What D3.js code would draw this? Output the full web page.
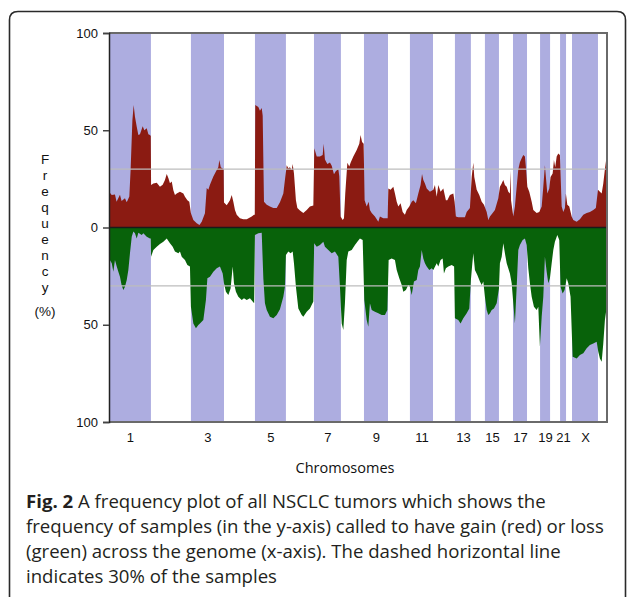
<!DOCTYPE html>
<html><head><meta charset="utf-8">
<script src="https://cdn.jsdelivr.net/npm/d3@7"></script>
<style>body{margin:0;background:#fff}svg{display:block}</style>
</head><body>
<svg id="c" width="627" height="597"></svg>
<script>
// ---- data ----
const chromosomes = ["1","2","3","4","5","6","7","8","9","10","11","12","13","14","15","16","17","18","19","20","21","22","X","Y"];
// approximate displayed chromosome lengths (Mb)
const chromLengths = [260,248,205,192,192,174,167,143,149,136,143,136,99,87,87,87,87,81,62,62,37,37,161,56];
const shadedChromosomes = ["1","3","5","7","9","11","13","15","17","19","21","X"];
const tickLabels = ["1","3","5","7","9","11","13","15","17","19","21","X"];
const yTickValues = [100,50,0,-50,-100];
const thresholdPct = 30;
// gain frequency (%) along genome position (Mb)
const gain = [[0,18.4],[17,16.7],[37,17],[47,13.3],[68,16.9],[78,13.6],[99,15],[110,13],[126,16],[134,29.6],[145,55],[153,63],[161,57],[172,51.8],[182,47.6],[192,48],[209,52],[219,50],[234,51],[244,48],[254,47.5],[259,47],[261,21.8],[275,22.6],[296,23],[316,21],[333,22],[347,24.4],[358,27.5],[368,25.4],[378,22.7],[389,23.6],[399,19.2],[409,16.7],[420,17.5],[440,18.4],[461,17.5],[471,15.8],[486,14],[498,13.3],[508,7.3],[523,3.9],[544,2.2],[561,1.3],[575,3],[595,7.3],[606,20.3],[616,19.4],[626,22],[647,26.2],[668,29.6],[678,31],[684,34.7],[693,31],[711,30],[713,12.8],[730,11.5],[750,14],[761,16.7],[771,13.3],[781,9],[792,6.5],[812,4.8],[833,4.2],[854,4.2],[885,5.6],[899,6.5],[904,6.5],[907,63],[926,62],[936,60],[947,61.5],[953,57.5],[961,13.3],[978,11.7],[998,10.8],[1019,10],[1040,10],[1060,13],[1081,17.5],[1093,26],[1102,32],[1112,30.4],[1122,31],[1133,29.6],[1139,32.7],[1147,27.8],[1159,14],[1168,10],[1184,8.8],[1205,7.5],[1226,9],[1246,10.8],[1267,11.3],[1273,40.7],[1288,36.5],[1308,36.5],[1325,37.3],[1331,43],[1339,35],[1354,32.6],[1370,33.4],[1381,31.7],[1395,27.4],[1407,29],[1422,29.9],[1428,26.4],[1436,5.6],[1449,3.9],[1457,4.8],[1465,17.5],[1478,33.3],[1490,31.3],[1498,33.3],[1515,36.5],[1536,39.8],[1552,43],[1560,47.6],[1569,44],[1579,43],[1585,14],[1598,10.8],[1610,13.3],[1618,9],[1629,7.5],[1649,5.6],[1670,3],[1680,5.6],[1701,4.8],[1728,4.8],[1732,20],[1746,19.4],[1763,21],[1773,17.5],[1784,13.3],[1794,10.8],[1808,12.5],[1821,8],[1835,6.5],[1846,9],[1862,10.8],[1877,13.3],[1887,14],[1903,12.5],[1918,17.5],[1932,21.8],[1941,27.5],[1949,24.4],[1959,22.6],[1970,20],[1990,18.4],[2011,19.4],[2021,21.8],[2032,15.8],[2042,21.8],[2056,18.4],[2073,20],[2089,14],[2098,14],[2114,16.7],[2135,17.5],[2143,13.3],[2151,5.6],[2166,5.3],[2187,5.3],[2207,5.3],[2218,8],[2238,10],[2249,26],[2259,33.3],[2265,26],[2280,19.4],[2296,16.7],[2311,13.3],[2325,11.7],[2342,8],[2352,3.9],[2362,5.6],[2379,7.5],[2393,9],[2414,15],[2424,21],[2435,22.6],[2445,24.4],[2455,21.8],[2466,21],[2476,18.4],[2486,17.5],[2490,29.3],[2493,14],[2507,5.6],[2517,10.8],[2528,21],[2538,29.9],[2548,33.5],[2559,35.6],[2569,37.3],[2579,36.5],[2585,31],[2594,21],[2606,18.4],[2621,13.3],[2631,9],[2652,7.5],[2668,8],[2683,10.8],[2693,21],[2703,32],[2709,26],[2718,17.5],[2730,20],[2738,26],[2751,27.8],[2759,34.7],[2767,31],[2776,36.5],[2786,38.1],[2796,37.3],[2807,10.8],[2817,8],[2827,10],[2833,17.5],[2842,11.7],[2854,10.8],[2869,5.6],[2879,3.9],[2900,3],[2920,4.2],[2941,6.5],[2962,7.5],[2982,8],[3003,9],[3019,10],[3032,19.4],[3044,18.4],[3055,17.5],[3065,22.6],[3075,29.9],[3088,38]];
// loss frequency (%) along genome position (Mb)
const loss = [[0,15.9],[17,18.4],[27,22.7],[37,16.7],[48,20.1],[58,22.7],[68,25.3],[78,29.6],[89,32.1],[99,30.4],[110,27],[120,21.9],[130,13.3],[141,4.7],[151,2.1],[161,3],[172,5.6],[182,2.7],[203,3.9],[213,3],[234,4.7],[254,5.6],[259,5.6],[261,15],[275,11.6],[296,9.9],[316,8.5],[337,7.3],[358,5.6],[378,8.1],[395,9.9],[409,12.4],[430,13.3],[440,12.4],[451,15],[471,16.7],[486,19.3],[502,20.1],[508,40.7],[523,49.3],[539,51.8],[554,50.1],[564,49.3],[585,47.6],[601,37.3],[610,26.1],[626,25.3],[647,22.7],[668,21],[688,20.1],[705,23.6],[713,28.7],[725,33],[740,34.7],[754,31.3],[767,20.1],[775,28.7],[787,33],[802,35.6],[823,37.3],[837,36.4],[854,37.3],[874,36.4],[900,39],[905,3.9],[926,3],[947,2.7],[957,26.1],[967,39],[978,42.4],[998,45.9],[1019,46.7],[1040,45],[1060,42],[1081,35.6],[1091,30.4],[1097,14.1],[1112,12.4],[1126,13.3],[1139,12.4],[1147,18.4],[1159,30.4],[1174,41.6],[1195,45],[1205,45.9],[1226,43.3],[1246,41.6],[1267,38.1],[1272,8.1],[1288,9.9],[1308,9],[1329,7.3],[1339,9.9],[1360,11.6],[1381,13.3],[1401,12.4],[1422,15],[1432,30.4],[1443,49.3],[1453,52.7],[1463,39],[1474,16.7],[1484,12.4],[1505,11.6],[1525,9],[1540,7.3],[1556,5.6],[1573,6.4],[1583,37.3],[1598,47.6],[1608,51],[1618,39],[1629,42.4],[1649,43.3],[1670,44.1],[1691,45],[1711,45],[1726,42.4],[1734,16.7],[1753,15.9],[1773,16.7],[1784,21.9],[1800,26.1],[1815,29.6],[1825,33],[1841,32.1],[1856,29.6],[1866,30.4],[1877,34.7],[1891,27.8],[1908,27],[1918,21.9],[1928,20.1],[1939,11.6],[1949,15.9],[1959,18.4],[1970,20.1],[1986,21.9],[2001,21],[2011,21.9],[2032,18.4],[2042,20.1],[2056,16.7],[2069,15.9],[2077,23.6],[2089,21],[2104,20.1],[2125,19.3],[2140,20.1],[2145,46.7],[2166,47.6],[2180,49.3],[2197,46.7],[2218,44.1],[2234,41.6],[2244,27],[2253,18.4],[2259,13.3],[2269,21.9],[2284,24.4],[2300,27.8],[2311,29.6],[2321,27.8],[2331,35.6],[2342,42.4],[2352,45],[2362,44.1],[2373,42.4],[2387,41.6],[2404,39],[2418,31.3],[2424,18.4],[2435,15],[2445,8.1],[2455,13.3],[2466,18.4],[2486,23.6],[2497,28.7],[2507,39],[2517,49.3],[2528,30.4],[2538,11.6],[2548,9],[2565,6.4],[2579,5.6],[2590,9],[2600,21],[2610,28.7],[2621,35.6],[2635,40.7],[2652,42.4],[2662,40.7],[2672,61.3],[2683,45.9],[2693,35.6],[2703,15],[2714,22.7],[2724,28.7],[2734,26.1],[2745,18.4],[2755,11.6],[2765,7.3],[2780,3.9],[2792,6.4],[2800,30.4],[2813,33.9],[2825,32.1],[2838,26.1],[2848,28.7],[2862,35.6],[2875,66.4],[2900,67.3],[2920,65.5],[2941,64.7],[2962,62.1],[2982,60.4],[3003,59.6],[3024,58.7],[3034,63.9],[3044,67.3],[3055,69],[3065,59.6],[3075,47.6],[3088,39.9]];
const yAxisTitle = ["F","r","e","q","u","e","n","c","y","(%)"];
const xAxisTitle = "Chromosomes";
const captionBold = "Fig. 2";
const captionLines = [" A frequency plot of all NSCLC tumors which shows the",
  "frequency of samples (in the y-axis) called to have gain (red) or loss",
  "(green) across the genome (x-axis). The dashed horizontal line",
  "indicates 30% of the samples"];

// ---- layout ----
const W = 627, H = 597;
const plot = {left:109, right:607, top:33, bottom:422};
const svg = d3.select("#c");

// outer figure box
svg.append("path")
  .attr("d", `M9.5,${H+20} V20 Q9.5,11.5 18,11.5 H617 Q625.5,11.5 625.5,20 V${H+20}`)
  .attr("fill","none").attr("stroke","#2a2a2a").attr("stroke-width",1.6);

const starts = [0];
chromLengths.forEach((l,i)=>starts.push(starts[i]+l));
const total = starts[starts.length-1];
const chroms = chromosomes.map((c,i)=>({name:c, start:starts[i], end:starts[i+1]}));

const x = d3.scaleLinear().domain([0,total]).range([plot.left, plot.right]);
const y = d3.scaleLinear().domain([-100,100]).range([plot.bottom, plot.top]);

// shaded chromosome bands
svg.append("g").selectAll("rect")
  .data(chroms.filter(d=>shadedChromosomes.includes(d.name)))
  .join("rect")
  .attr("x", d=>x(d.start)).attr("width", d=>x(d.end)-x(d.start))
  .attr("y", y(100)).attr("height", y(-100)-y(100))
  .attr("fill","#adade0");

// gain / loss areas
const gainArea = d3.area().x(d=>x(d[0])).y0(y(0)).y1(d=>y(d[1]));
const lossArea = d3.area().x(d=>x(d[0])).y0(y(0)).y1(d=>y(-d[1]));
svg.append("path").datum(gain).attr("d", gainArea).attr("fill","#8b1b12");
svg.append("path").datum(loss).attr("d", lossArea).attr("fill","#08620a");

// 30% threshold lines
svg.append("g").selectAll("line").data([thresholdPct, -thresholdPct]).join("line")
  .attr("x1", plot.left).attr("x2", plot.right)
  .attr("y1", d=>y(d)).attr("y2", d=>y(d))
  .attr("stroke","#bdbdbd").attr("stroke-width",1.2);

// zero line
svg.append("line").attr("x1",plot.left).attr("x2",plot.right)
  .attr("y1",y(0)).attr("y2",y(0)).attr("stroke","#1a1a1a").attr("stroke-width",1.6);

// frame (top, right, bottom)
svg.append("path")
  .attr("d", `M${plot.left},${y(100)} H${plot.right} V${y(-100)} H${plot.left}`)
  .attr("fill","none").attr("stroke","#6a6a6a").attr("stroke-width",2);

// y axis
const yAxis = d3.axisLeft(y).tickValues(yTickValues).tickSize(6).tickPadding(5)
  .tickFormat(d=>Math.abs(d));
const gy = svg.append("g").attr("transform",`translate(${plot.left},0)`).call(yAxis);
gy.select(".domain").attr("stroke","#222").attr("stroke-width",1.5);
gy.selectAll(".tick line").attr("stroke","#444").attr("stroke-width",1.5);
gy.selectAll("text").attr("font-family","'Liberation Sans', Arial, sans-serif")
  .attr("font-size",13).attr("fill","#111");

// x axis labels at chromosome centres
const centres = chroms.filter(d=>tickLabels.includes(d.name));
const xAxis = d3.axisBottom(x).tickValues(centres.map(d=>(d.start+d.end)/2))
  .tickSize(0).tickPadding(11).tickFormat((d,i)=>tickLabels[i]);
const gx = svg.append("g").attr("transform",`translate(0,${plot.bottom})`).call(xAxis);
gx.select(".domain").remove();
gx.selectAll("text").attr("font-family","'Liberation Sans', Arial, sans-serif")
  .attr("font-size",13).attr("fill","#111");

// y title stacked letters
svg.append("g").selectAll("text").data(yAxisTitle).join("text")
  .attr("x",45).attr("y",(d,i)=> i<9 ? 164 + i*16 : 164 + 8*16 + 24)
  .attr("text-anchor","middle")
  .attr("font-family","'Liberation Sans', Arial, sans-serif").attr("font-size",13.5).attr("fill","#111")
  .text(d=>d);

// x title
svg.append("text").attr("x",345).attr("y",473).attr("text-anchor","middle")
  .attr("font-family","'Open Sans', sans-serif").attr("font-size",14.5).attr("fill","#111")
  .text(xAxisTitle);

// caption
const cap = svg.append("text").attr("font-family","'Open Sans', sans-serif")
  .attr("font-size",18.6).attr("fill","#231f20");
captionLines.forEach((line,i)=>{
  const t = cap.append("tspan").attr("x",26).attr("y",508 + i*25);
  if(i===0){
    t.append("tspan").attr("font-weight","bold").text(captionBold);
    cap.append("tspan").text(line);
  } else t.text(line);
});
</script>
</body></html>
